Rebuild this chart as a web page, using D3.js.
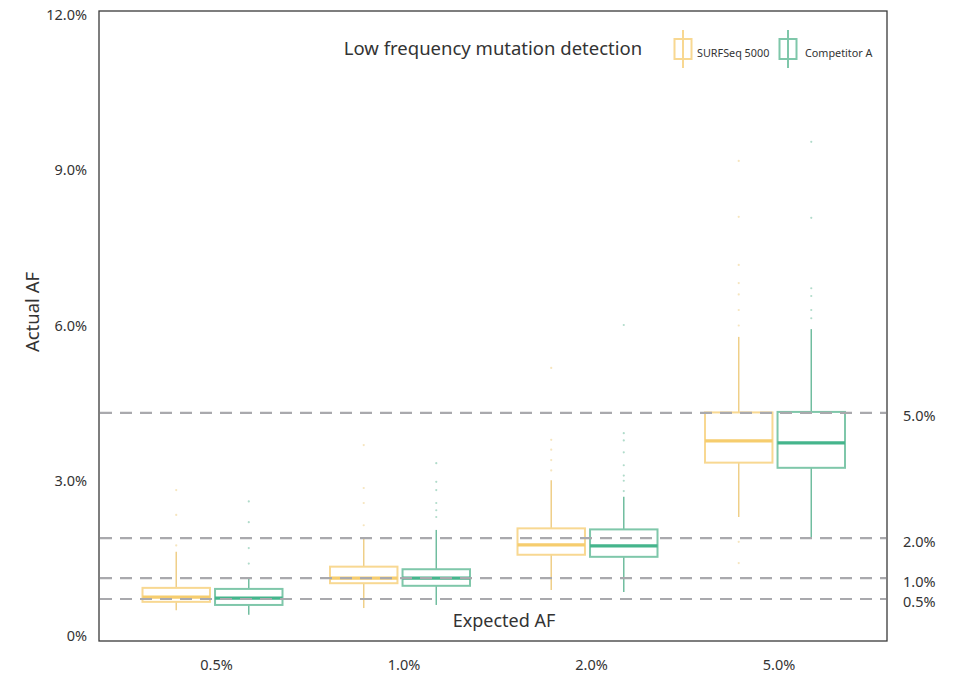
<!DOCTYPE html>
<html>
<head>
<meta charset="utf-8">
<script src="https://cdn.jsdelivr.net/npm/d3@7"></script>
<style>
  body { margin: 0; background: #fff; }
  text { font-family: "Noto Sans", "Open Sans", sans-serif; fill: #333; }
</style>
</head>
<body>
<div id="chart"></div>
<script>
// expected AF groups
var categories = ["0.5%", "1.0%", "2.0%", "5.0%"];
var seriesNames = ["SURFSeq 5000", "Competitor A"];

// [whisker low, q1, median, q3, whisker high] in %
var surfStats = [
  [0.50, 0.66, 0.75, 0.93, 1.63],
  [0.54, 1.02, 1.12, 1.34, 1.89],
  [0.89, 1.57, 1.76, 2.08, 3.01],
  [2.30, 3.35, 3.77, 4.32, 5.78]
];
var compStats = [
  [0.41, 0.60, 0.73, 0.91, 1.14],
  [0.60, 0.97, 1.12, 1.29, 2.05],
  [0.85, 1.53, 1.74, 2.06, 2.69],
  [1.91, 3.25, 3.73, 4.33, 5.93]
];
var surfOutliers = [
  [1.75, 2.34, 2.82],
  [2.14, 2.57, 2.86, 3.69],
  [3.2, 3.4, 3.6, 3.79, 5.18],
  [6.0, 6.3, 6.6, 6.82, 7.17, 8.10, 9.18, 1.82, 1.41]
];
var compOutliers = [
  [1.4, 1.7, 2.2, 2.6],
  [2.30, 2.43, 2.57, 2.82, 2.98, 3.34],
  [2.8, 3.0, 3.1, 3.3, 3.55, 3.78, 3.92, 6.01],
  [6.14, 6.30, 6.57, 6.72, 8.08, 9.55]
];

// where the expected values sit on the actual AF scale
var expectedPos = [0.715, 1.12, 1.89, 4.31];
var yTicks = [0, 3, 6, 9, 12];
var yTickLabels = ["0%", "3.0%", "6.0%", "9.0%", "12.0%"];

var colors = {
  stroke: ["#f8d892", "#7fc7aa"],
  median: ["#f6cd6e", "#45b58c"],
  whisker: ["#efcf88", "#70bd9f"]
};

var W = 956, H = 675;
var frame = {left: 99, right: 887, top: 11, bottom: 641};

var svg = d3.select("#chart").append("svg")
  .attr("width", W).attr("height", H);

var x = d3.scaleBand()
  .domain(categories)
  .range([118.75, 868.75]);
var sub = d3.scaleBand()
  .domain(seriesNames)
  .range([-70, 70])
  .paddingInner(0.07);
var y = d3.scaleLinear()
  .domain([0, 12])
  .range([636, 15]);

// frame
svg.append("rect")
  .attr("x", frame.left).attr("y", frame.top)
  .attr("width", frame.right - frame.left)
  .attr("height", frame.bottom - frame.top)
  .attr("fill", "none")
  .attr("stroke", "#3a3a3a")
  .attr("stroke-width", 1.3);

// left axis
var yAxis = svg.append("g")
  .attr("transform", "translate(" + frame.left + ",0)")
  .call(d3.axisLeft(y).tickValues(yTicks)
    .tickFormat(function(d, i) { return yTickLabels[i]; })
    .tickSize(0).tickPadding(12));
yAxis.select(".domain").remove();
yAxis.selectAll("text").attr("font-size", 14.5).style("fill", "#333");

// right axis with expected AF
var rAxis = svg.append("g")
  .attr("transform", "translate(" + frame.right + ",0)")
  .call(d3.axisRight(y).tickValues(expectedPos)
    .tickFormat(function(d, i) { return categories[i]; })
    .tickSize(0).tickPadding(16));
rAxis.select(".domain").remove();
rAxis.selectAll("text").attr("font-size", 14.5).attr("dy", "0.55em").style("fill", "#333");

// bottom category labels
var xAxis = svg.append("g")
  .attr("transform", "translate(4," + 660 + ")")
  .call(d3.axisBottom(x).tickSize(0).tickPadding(0));
xAxis.select(".domain").remove();
xAxis.selectAll("text").attr("font-size", 14.5).style("fill", "#333");

function drawBoxes(stats, outliers, si) {
  var name = seriesNames[si];
  var g = svg.append("g");
  var bw = sub.bandwidth();
  stats.forEach(function(s, i) {
    var cx = x(categories[i]) + x.bandwidth() / 2 + sub(name) + bw / 2;
    // outliers
    g.selectAll(null)
      .data(outliers[i])
      .enter().append("circle")
      .attr("cx", cx)
      .attr("cy", function(d) { return y(d); })
      .attr("r", 1.1)
      .attr("fill", colors.whisker[si])
      .attr("opacity", 0.55);
    // whiskers
    g.append("line")
      .attr("x1", cx).attr("x2", cx)
      .attr("y1", y(s[4])).attr("y2", y(s[3]))
      .attr("stroke", colors.whisker[si]).attr("stroke-width", 1.5);
    g.append("line")
      .attr("x1", cx).attr("x2", cx)
      .attr("y1", y(s[1])).attr("y2", y(s[0]))
      .attr("stroke", colors.whisker[si]).attr("stroke-width", 1.5);
    // box
    g.append("rect")
      .attr("x", cx - bw / 2)
      .attr("y", y(s[3]))
      .attr("width", bw)
      .attr("height", y(s[1]) - y(s[3]))
      .attr("fill", "#fff")
      .attr("fill-opacity", 0.6)
      .attr("stroke", colors.stroke[si])
      .attr("stroke-width", 2);
    // median
    g.append("line")
      .attr("x1", cx - bw / 2).attr("x2", cx + bw / 2)
      .attr("y1", y(s[2])).attr("y2", y(s[2]))
      .attr("stroke", colors.median[si]).attr("stroke-width", 3.2);
  });
}
drawBoxes(surfStats, surfOutliers, 0);
drawBoxes(compStats, compOutliers, 1);

// dashed expected lines, drawn over the boxes
svg.selectAll(".expected")
  .data(expectedPos)
  .enter().append("line")
  .attr("class", "expected")
  .attr("x1", frame.left + 1).attr("x2", frame.right - 1)
  .attr("y1", function(d) { return y(d); })
  .attr("y2", function(d) { return y(d); })
  .attr("stroke", "#a9a9ad")
  .attr("stroke-width", 2.2)
  .attr("stroke-dasharray", "12,8");

// titles
svg.append("text")
  .attr("x", 493).attr("y", 55)
  .attr("text-anchor", "middle")
  .attr("font-size", 18.5)
  .text("Low frequency mutation detection");
svg.append("text")
  .attr("x", 504).attr("y", 627)
  .attr("text-anchor", "middle")
  .attr("font-size", 18)
  .text("Expected AF");
svg.append("text")
  .attr("transform", "translate(39,312) rotate(-90)")
  .attr("text-anchor", "middle")
  .attr("font-size", 18.5)
  .text("Actual AF");

// legend
var legend = svg.append("g");
var legX = [683, 788];
seriesNames.forEach(function(n, i) {
  var lg = legend.append("g").attr("transform", "translate(" + legX[i] + ",0)");
  lg.append("line")
    .attr("x1", 0).attr("x2", 0).attr("y1", 30).attr("y2", 68)
    .attr("stroke", colors.stroke[i]).attr("stroke-width", 2);
  lg.append("rect")
    .attr("x", -8.5).attr("y", 39).attr("width", 17).attr("height", 20)
    .attr("fill", "none")
    .attr("stroke", colors.stroke[i]).attr("stroke-width", 2);
  lg.append("text")
    .attr("x", i == 0 ? 14 : 17).attr("y", 57)
    .attr("font-size", 10.8)
    .text(n);
});
</script>
</body>
</html>
